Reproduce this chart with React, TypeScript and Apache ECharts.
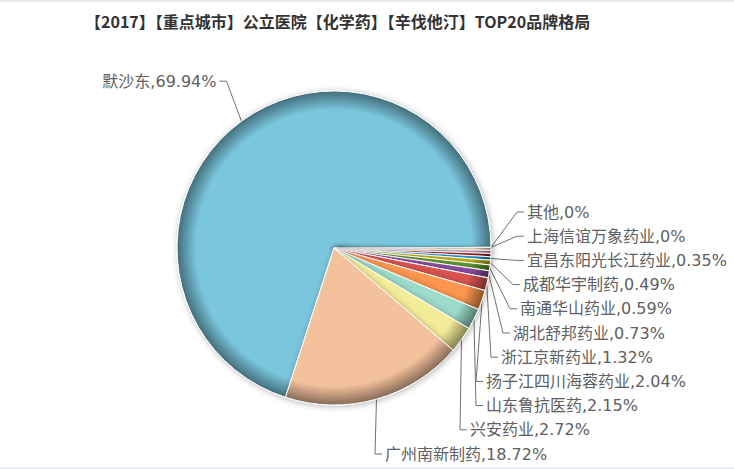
import React, { useEffect, useRef } from 'react';
import * as echarts from 'echarts';

const titleText = '【2017】【重点城市】公立医院【化学药】【辛伐他汀】TOP20品牌格局';

// clockwise from the big slice
const brands = [
    '默沙东',
    '其他',
    '上海信谊万象药业',
    '品牌A',
    '品牌B',
    '品牌C',
    '宜昌东阳光长江药业',
    '成都华宇制药',
    '南通华山药业',
    '湖北舒邦药业',
    '浙江京新药业',
    '扬子江四川海蓉药业',
    '山东鲁抗医药',
    '兴安药业',
    '广州南新制药',
];
const shares = [69.94, 0, 0, 0.3, 0.32, 0.33, 0.35, 0.49, 0.59, 0.73, 1.32, 2.04, 2.15, 2.72, 18.72];
const hiddenLabels = ['品牌A', '品牌B', '品牌C'];

const colors = [
    '#7ac6dd', '#f6e3b4', '#f6e3b4', '#f3dcb0', '#c9a2c7', '#a81c1c',
    '#1a9fdc', '#c2b417', '#5f9632', '#8c4d9e', '#d9534f', '#fd9650',
    '#9ddbca', '#f3ec98', '#f4c19d',
];

const CX = 334;
const CY = 246;
const R = 157;

// label layout on the right side (Highcharts-like stacking)
const LABEL_TOP = 210;
const LABEL_STEP = 24.2;
const labelDx = [193, 193, 193, 189, 186, 179, 167, 152, 152, 136, 51];

function darken(hex: string, k: number) {
    const n = parseInt(hex.slice(1), 16);
    const r = Math.round(((n >> 16) & 255) * k);
    const g = Math.round(((n >> 8) & 255) * k);
    const b = Math.round((n & 255) * k);
    return `rgb(${r},${g},${b})`;
}

function shade(c: string) {
    return {
        type: 'radial',
        x: CX,
        y: CY,
        r: R,
        global: true,
        colorStops: [
            { offset: 0, color: c },
            { offset: 0.88, color: c },
            { offset: 1, color: darken(c, 0.55) },
        ],
    };
}

const App: React.FC = () => {
    const chartRef = useRef<HTMLDivElement>(null);

    useEffect(() => {
        const chartDom = chartRef.current!;
        const myChart = echarts.init(chartDom, undefined, { renderer: 'svg' });

        const rightIdx = brands
            .map((b, i) => i)
            .filter((i) => i > 0 && !hiddenLabels.includes(brands[i]));

        const option: any = {
            animation: false,
            title: {
                text: titleText,
                left: 80,
                top: 6,
                textStyle: {
                    fontFamily: '"Noto Sans CJK SC", sans-serif',
                    fontSize: 16,
                    fontWeight: 'bold',
                    color: '#333',
                },
            },
            series: [
                {
                    type: 'pie',
                    center: [CX, CY],
                    radius: R,
                    startAngle: 252,
                    clockwise: true,
                    avoidLabelOverlap: false,
                    itemStyle: {
                        borderColor: '#fff',
                        borderWidth: 1,
                        shadowBlur: 6,
                        shadowColor: 'rgba(0,0,0,0.3)',
                        shadowOffsetX: 1,
                        shadowOffsetY: 1,
                    },
                    label: {
                        formatter: '{b},{c}%',
                        fontFamily: '"DejaVu Sans", "Noto Sans CJK SC", sans-serif',
                        fontSize: 16,
                        color: '#606060',
                    },
                    labelLine: {
                        length: 25,
                        length2: 8,
                        lineStyle: { color: '#707070', width: 1 },
                    },
                    labelLayout: (params: any) => {
                        const pts = params.labelLinePoints;
                        if (!pts) return {};
                        const edge = pts[0];
                        if (params.dataIndex === 0) {
                            const ly = edge[1] - 40;
                            const lx = edge[0] - 25;
                            return {
                                x: lx,
                                y: ly,
                                align: 'right',
                                verticalAlign: 'middle',
                                labelLinePoints: [edge, [lx + 10, ly], [lx + 3, ly]],
                            };
                        }
                        const slot = rightIdx.indexOf(params.dataIndex);
                        if (slot < 0) return {};
                        const ly = LABEL_TOP + slot * LABEL_STEP;
                        const lx = CX + labelDx[slot];
                        return {
                            x: lx,
                            y: ly,
                            align: 'left',
                            verticalAlign: 'middle',
                            labelLinePoints: [edge, [lx - 10, ly], [lx - 3, ly]],
                        };
                    },
                    data: brands.map((name, i) => {
                        const hide = hiddenLabels.includes(name);
                        return {
                            name,
                            value: shares[i],
                            itemStyle: { color: shade(colors[i]) },
                            label: { show: !hide },
                            labelLine: { show: !hide },
                        };
                    }),
                },
            ],
        };

        myChart.setOption(option);

        return () => {
            myChart.dispose();
        };
    }, []);

    return (
        <div
            style={{
                position: 'fixed',
                left: 0,
                top: 0,
                width: 734,
                height: 469,
                background: '#fff',
                boxSizing: 'border-box',
                borderTop: '2px solid #e4e9f0',
                borderBottom: '2px solid #e4ecf8',
            }}
        >
            <div ref={chartRef} style={{ width: 734, height: 465 }} />
        </div>
    );
};

export default App;
